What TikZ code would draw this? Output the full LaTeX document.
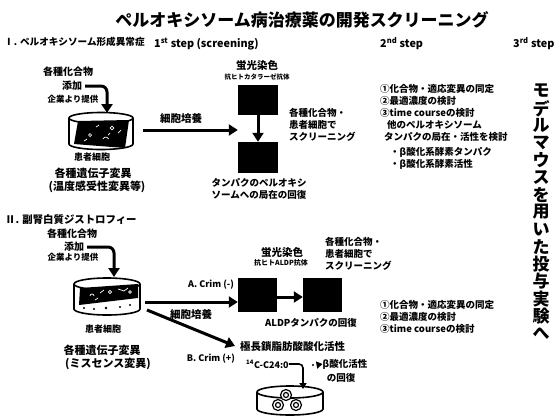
\documentclass[tikz,border=0pt]{standalone}
\usepackage{fontspec}
\setmainfont{Noto Sans CJK JP}
\usetikzlibrary{arrows.meta}
\tikzset{
  arr/.style={line width=3pt,-{Triangle[length=9pt,width=11pt]}},
  thinarr/.style={line width=1.6pt,-{Triangle[length=6pt,width=7pt]}},
  blk/.style={fill=black},
  dish/.style={line width=1.6pt,fill=white},
  t/.style={font=\bfseries\fontsize{#1}{#1}\selectfont,inner sep=0pt},
  tw/.style={t=#1,anchor=west},
}
\newcommand{\petri}[5]{% x, y of top centre, x radius, y radius, height
  \draw[dish] ({#1-#3},#2) -- ({#1-#3},{#2+#5})
    arc[start angle=180,end angle=0,x radius=#3,y radius=#4] -- ({#1+#3},#2);
  \draw[dish] (#1,#2) ellipse[x radius=#3,y radius=#4];
}
\begin{document}
\begin{tikzpicture}[x=1pt,y=-1pt]
\useasboundingbox[fill=white] (0,0) rectangle (560,416);

% title and column heads
\node[t=17] (title) at (302,20) {ペルオキシソーム病治療薬の開発スクリーニング};
\node[tw=9.6] (sec1) at (4,42) {Ⅰ. ペルオキシソーム形成異常症};
\node[tw=10.8] (st1) at (154,44) {1\textsuperscript{st} step (screening)};
\node[tw=10.8] (st2) at (380,44) {2\textsuperscript{nd} step};
\node[tw=10.8] (st3) at (513,44) {3\textsuperscript{rd} step};

% ---- section I ----
\node[t=10] (c1a) at (68,72) {各種化合物};
\node[t=10] (c1b) at (72,86) {添加};
\node[t=8.5] (c1c) at (73,99) {企業より提供};
\coordinate (c1s) at (85,86);
\coordinate (d1top) at (107,113);
\draw[arr,rounded corners=6pt] (c1s) -| (d1top);

\petri{101}{118}{32}{5.5}{26}
\fill[black] (78,121) -- (129,120) -- (125,148) -- (74,144) -- cycle;
\draw[white,line width=0.7pt] (90,135) circle (1.5) (112,128) circle (1.8)
  (103,139) arc[start angle=200,end angle=340,radius=3] (118,133) -- (121,130)
  (96,127) -- (99,125) (108,135) -- (110,133) (84,141) -- (87,139);
\node[t=9] (pc1) at (92,157) {患者細胞};
\node[t=11] (mut1) at (93,173) {各種遺伝子変異};
\node[t=11] (mut1b) at (97,187) {(温度感受性変異等)};

\node[t=10.5] (cult1) at (181,118) {細胞培養};
\coordinate (a1s) at (143,130);
\node[blk,minimum width=40pt,minimum height=30pt,inner sep=0pt] (b1) at (258,100) {};
\draw[arr] (a1s) -- (b1.west |- a1s);
\node[t=10.5] (fl1) at (257,66) {蛍光染色};
\node[t=6.5] (ab1) at (257,77) {抗ヒトカタラーゼ抗体};
\node[blk,minimum width=40pt,minimum height=31pt,inner sep=0pt] (b2) at (258,157.5) {};
\draw[arr] (b1.south) -- (b2.north);
\node[t=9.5] (r1a) at (259,183) {タンパクのペルオキシ};
\node[t=9.5] (r1b) at (259,195) {ソームへの局在の回復};
\node[tw=9.5] (s1a) at (289,113) {各種化合物・};
\node[tw=9.5] (s1b) at (289,125) {患者細胞で};
\node[tw=9.5] (s1c) at (289,137) {スクリーニング};

\node[tw=9.5] (p1) at (380,89) {①化合物・適応変異の同定};
\node[tw=9.5] (p2) at (380,101) {②最適濃度の検討};
\node[tw=9.5] (p3) at (380,113) {③time courseの検討};
\node[tw=9.5] (p4) at (387,125) {他のペルオキシソーム};
\node[tw=9.5] (p5) at (384,137) {タンパクの局在・活性を検討};
\node[tw=9.5] (p6) at (390,152) {・β酸化系酵素タンパク};
\node[tw=9.5] (p7) at (390,164) {・β酸化系酵素活性};

% third step, set vertically
\foreach \ch [count=\i from 0] in {モ,デ,ル,マ,ウ,ス,を,用,い,た,投,与,実,験,へ}
  \node[t=17] (v\i) at (541,{91+17.3*\i}) {\ch};

% ---- section II ----
\node[tw=10.4] (sec2) at (5,220) {Ⅱ. 副腎白質ジストロフィー};
\node[t=10] (c2a) at (72,234) {各種化合物};
\node[t=10] (c2b) at (74,247) {添加};
\node[t=8.5] (c2c) at (73,257) {企業より提供};
\coordinate (c2s) at (87,247);
\coordinate (d2top) at (114,277);
\draw[arr,rounded corners=6pt] (c2s) -| (d2top);

\petri{107}{284}{33}{6}{25}
\fill[black] (80,288) -- (138,284) -- (138,298) -- (79,305) -- cycle;
\draw[white,line width=0.7pt] (90,296) arc[start angle=180,end angle=360,radius=2]
  (100,293) -- (104,290) (110,292) circle (1.6) (118,289) -- (124,291) -- (128,288)
  (95,300) -- (98,298) (130,292) circle (1.3);
\fill[black] (84,308) circle (1.2) (94,309) circle (1.2) (106,308) circle (1.4)
  (120,307) circle (1.2) (130,305) circle (1.2);
\node[t=9] (pc2) at (103,329) {患者細胞};
\node[t=11] (mut2) at (102,350) {各種遺伝子変異};
\node[t=11] (mut2b) at (108,364) {(ミスセンス変異)};

\node[t=9] (ca) at (211,285) {A. Crim (-)};
\node[t=10.5] (cult2) at (191,314) {細胞培養};
\node[t=9] (cb) at (211,359) {B. Crim (+)};
\node[blk,minimum width=39pt,minimum height=34pt,inner sep=0pt] (bA1) at (257.5,295) {};
\node[blk,minimum width=39pt,minimum height=34pt,inner sep=0pt] (bA2) at (322.5,295) {};
\coordinate (aAs) at (145,302);
\draw[arr] (aAs) -- (bA1.west |- aAs);
\draw[arr] ([yshift=-2pt]bA1.east) -- ([yshift=-2pt]bA2.west);
\coordinate (aBs) at (147,310);
\coordinate (aBe) at (235,346);
\draw[arr] (aBs) -- (aBe);

\node[t=10.5] (fl2) at (282,253) {蛍光染色};
\node[t=7] (ab2) at (281,263) {抗ヒトALDP抗体};
\node[tw=9.5] (s2a) at (325,242) {各種化合物・};
\node[tw=9.5] (s2b) at (325,254) {患者細胞で};
\node[tw=9.5] (s2c) at (325,266) {スクリーニング};
\node[t=9.5] (r2) at (311,323) {ALDPタンパクの回復};

\node[tw=10.5] (vlc) at (240,347) {極長鎖脂肪酸酸化活性};
\node[tw=9] (c24) at (246,364) {\textsuperscript{14}C-C24:0};
\petri{290}{392}{33}{6}{17}
\foreach \cx/\cy in {286/395,278/405,296/405}{
  \draw[line width=1.2pt,fill=white] (\cx,\cy) circle (5.5);
  \draw[line width=1.2pt] (\cx,\cy) circle (2.5);
}
\coordinate (d3in) at (303,389);
\draw[thinarr,rounded corners=4pt] (c24.east) -- (303,364) -- (d3in);
\node[t=9.5] (bo1) at (345,364) {β酸化活性};
\node[t=9.5] (bo2) at (341,378) {の回復};
\fill (313,365) circle (1.2);
\draw[thinarr] (317,365) -- (bo1.west);

\node[tw=9.5] (q1) at (380,305) {①化合物・適応変異の同定};
\node[tw=9.5] (q2) at (380,317) {②最適濃度の検討};
\node[tw=9.5] (q3) at (380,329) {③time courseの検討};
\end{tikzpicture}
\end{document}
